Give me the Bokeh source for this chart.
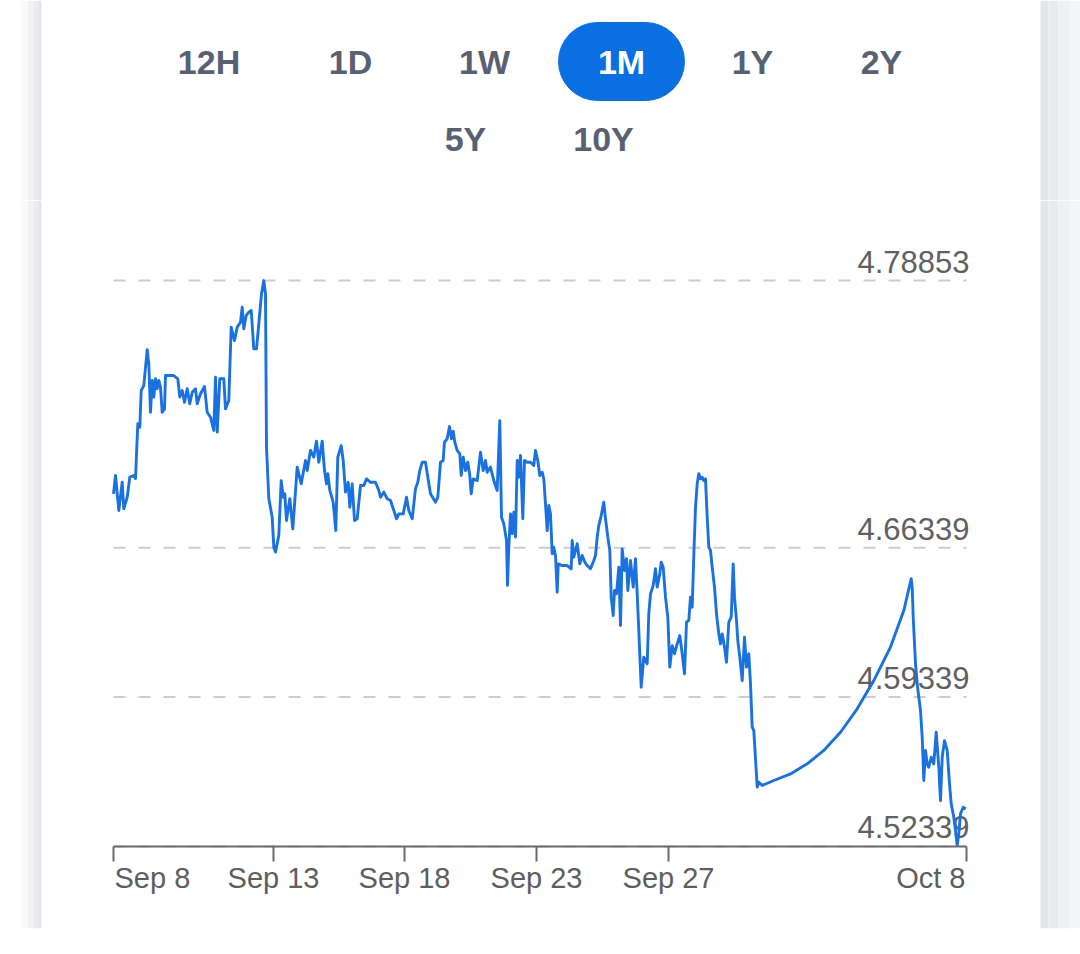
from bokeh.plotting import figure
from bokeh.models import Range1d, FixedTicker, Label, BoxAnnotation
from bokeh.layouts import column
from bokeh.embed import file_html
from bokeh.resources import INLINE
from bokeh.core.properties import value

# range selector
buttons = ["12H", "1D", "1W", "1M", "1Y", "2Y", "5Y", "10Y"]
active = "1M"

# position along the (trading time) axis and the quoted value
t = [0, 2, 5.3, 8.7, 10.3, 13.7, 16.3, 20.3, 22, 24.3,
     26.3, 27.7, 30.3, 33.7, 35.3, 37, 38.7, 40.3, 42, 43.7,
     45.3, 47, 48.7, 51, 52, 60.3, 64.3, 66.3, 68.7, 71,
     73.7, 76.3, 78.7, 82, 83.7, 87, 91, 93.7, 97, 100.3,
     102, 103.7, 106.3, 110.3, 112, 115.3, 117.7, 121, 123.7, 127,
     128.7, 130.3, 132.7, 135.3, 137.7, 140.3, 143, 145.3, 148, 150.3,
     152, 153, 155.3, 158.7, 160.3, 162, 165.3, 167.7, 169.7, 171.3,
     173, 176.3, 179.3, 183.7, 187.7, 192, 193.7, 197, 200.3, 203,
     205.3, 208.7, 211, 213, 214.3, 216.3, 219.7, 222.3, 224.3, 227.7,
     229.7, 232, 234.7, 236.3, 238.7, 241, 243.7, 247, 250.3, 253,
     257, 262, 265.3, 267, 270.3, 273.7, 277, 280.3, 283, 285.3,
     289.7, 293, 295.3, 298.7, 302, 304.3, 306.3, 308.7, 312, 314.3,
     317, 322, 324.3, 327, 329.7, 331, 333.7, 336, 338, 339.7,
     341.3, 343.7, 346.3, 347.7, 349.7, 352, 354.3, 356.3, 357.7, 359.7,
     363.7, 367, 369.7, 372, 373.7, 377, 380.3, 383.7, 386.3, 388,
     390.3, 393, 394, 395.3, 397, 398.7, 400.3, 402, 403.7, 405.3,
     407, 409.3, 411, 413.7, 417, 420.3, 422, 424.3, 426.3, 428.7,
     430.3, 432, 433.7, 435.3, 437, 438.7, 440.3, 442, 443.7, 444.7,
     448.7, 453.7, 457.7, 458.7, 460.3, 463.7, 466.3, 468.7, 471.3, 473.7,
     477, 480.3, 482, 483.7, 485.3, 487.7, 490.3, 492, 494.3, 496.3,
     497.7, 499.7, 501, 503, 505.3, 507, 508.7, 511, 513, 514.3,
     517, 519.7, 522, 523.7, 525.3, 527.7, 530.3, 533.7, 535.3, 537,
     539.7, 542, 543.7, 546.3, 547.7, 549.7, 552, 554.3, 556.3, 558.7,
     561, 563.7, 566.3, 568.7, 571, 573, 575.3, 577, 578.7, 580.3,
     582, 583.7, 585.3, 587, 588.7, 590.3, 592, 593.7, 595.3, 597,
     598.7, 601, 603, 605.3, 607, 608.7, 611, 613, 615.3, 617.7,
     619.7, 621, 623, 624.3, 626.3, 628.7, 631, 633, 635.3, 637,
     638.7, 640.3, 643.7, 645.3, 648.7, 660.3, 677, 693.7, 710.3, 727,
     743.7, 760.3, 777, 790.3, 797.7, 798.7, 799.7, 802, 803.7, 805.3,
     807, 808.7, 810.3, 812, 813.7, 815.3, 817.7, 820.3, 822.7, 825.3,
     827, 828.7, 831, 833.7, 836, 837.7, 840.3, 842, 843.7, 845.3,
     847, 849.7, 852.3]

yld = [4.6886, 4.6972, 4.6808, 4.6940, 4.6816, 4.6870, 4.6964, 4.6972, 4.6958, 4.7214,
       4.7198, 4.7370, 4.7393, 4.7561, 4.7495, 4.7268, 4.7417, 4.7339, 4.7425, 4.7378,
       4.7417, 4.7385, 4.7268, 4.7284, 4.7440, 4.7440, 4.7425, 4.7339, 4.7370, 4.7315,
       4.7378, 4.7308, 4.7362, 4.7378, 4.7308, 4.7355, 4.7389, 4.7268, 4.7245, 4.7183,
       4.7432, 4.7175, 4.7425, 4.7425, 4.7284, 4.7323, 4.7667, 4.7604, 4.7667, 4.7690,
       4.7760, 4.7659, 4.7721, 4.7737, 4.7745, 4.7565, 4.7565, 4.7682, 4.7823, 4.7885,
       4.7823, 4.7104, 4.6864, 4.6776, 4.6636, 4.6613, 4.6691, 4.6948, 4.6870, 4.6886,
       4.6761, 4.6863, 4.6722, 4.7011, 4.6933, 4.7042, 4.6995, 4.7089, 4.7058, 4.7133,
       4.7034, 4.7133, 4.6995, 4.6933, 4.6980, 4.6902, 4.6847, 4.6714, 4.7058, 4.7112,
       4.7042, 4.6894, 4.6940, 4.6823, 4.6933, 4.6761, 4.6769, 4.6925, 4.6925, 4.6956,
       4.6940, 4.6940, 4.6902, 4.6870, 4.6894, 4.6863, 4.6855, 4.6808, 4.6769, 4.6792,
       4.6792, 4.6870, 4.6808, 4.6769, 4.6910, 4.6940, 4.6995, 4.7034, 4.7034, 4.6964,
       4.6886, 4.6847, 4.6870, 4.7034, 4.7042, 4.7128, 4.7144, 4.7201, 4.7144, 4.7179,
       4.7128, 4.7089, 4.7073, 4.6972, 4.7058, 4.6995, 4.7034, 4.6972, 4.6886, 4.6956,
       4.6948, 4.7081, 4.6995, 4.7042, 4.6987, 4.7011, 4.6948, 4.6902, 4.7229, 4.6776,
       4.6746, 4.6667, 4.6457, 4.6636, 4.6792, 4.6699, 4.6800, 4.6683, 4.7042, 4.6964,
       4.7066, 4.6769, 4.7042, 4.7034, 4.7034, 4.7019, 4.7089, 4.7042, 4.6972, 4.6987,
       4.6956, 4.6839, 4.6714, 4.6831, 4.6792, 4.6605, 4.6636, 4.6597, 4.6425, 4.6558,
       4.6550, 4.6550, 4.6535, 4.6667, 4.6589, 4.6652, 4.6558, 4.6597, 4.6566, 4.6550,
       4.6535, 4.6574, 4.6597, 4.6683, 4.6738, 4.6784, 4.6847, 4.6769, 4.6683, 4.6621,
       4.6402, 4.6316, 4.6433, 4.6418, 4.6542, 4.6269, 4.6628, 4.6527, 4.6582, 4.6433,
       4.6574, 4.6449, 4.6582, 4.6418, 4.6246, 4.5980, 4.6121, 4.6090, 4.6324, 4.6418,
       4.6457, 4.6535, 4.6449, 4.6511, 4.6566, 4.6542, 4.6402, 4.6308, 4.6074, 4.6175,
       4.6137, 4.6183, 4.6222, 4.6137, 4.6043, 4.6285, 4.6293, 4.6402, 4.6355, 4.6597,
       4.6823, 4.6933, 4.6980, 4.6956, 4.6964, 4.6948, 4.6956, 4.6776, 4.6636, 4.6621,
       4.6542, 4.6449, 4.6324, 4.6230, 4.6183, 4.6230, 4.6168, 4.6097, 4.6285, 4.6308,
       4.6558, 4.6402, 4.6293, 4.6199, 4.6121, 4.6011, 4.6214, 4.6074, 4.6137, 4.5996,
       4.5793, 4.5777, 4.5512, 4.5535, 4.5520, 4.5543, 4.5574, 4.5621, 4.5684, 4.5769,
       4.5879, 4.6011, 4.6168, 4.6339, 4.6488, 4.6449, 4.6308, 4.6090, 4.5996, 4.5933,
       4.5871, 4.5746, 4.5543, 4.5684, 4.5621, 4.5605, 4.5652, 4.5621, 4.5769, 4.5605,
       4.5449, 4.5652, 4.5730, 4.5684, 4.5528, 4.5434, 4.5371, 4.5309, 4.5239, 4.5293,
       4.5387, 4.5418, 4.5411]

tick_pos = [0, 160, 291, 423, 555, 853]
tick_labels = ["Sep 8", "Sep 13", "Sep 18", "Sep 23", "Sep 27", "Oct 8"]
level_ticks = [4.52339, 4.59339, 4.66339, 4.78853]

BLUE = "#0a6fe2"
LINE = "#1a72e0"
SLATE = "#596072"
GREY = "#5e5e5e"
FONT = "Liberation Sans"
W = 1080


def card_edges(fig):
    # soft shadow on both sides of the white card
    left = [(20, 27, "#f8f9fa"), (27, 33, "#f1f2f4"), (33, 38, "#e9ebee"), (38, 41, "#e2e4e7")]
    right = [(1040, 1048, "#e3e5e8"), (1048, 1058, "#e9eaed"), (1058, 1070, "#eff0f2"),
             (1070, 1080, "#f4f5f6")]
    for a, b, c in left + right:
        fig.add_layout(BoxAnnotation(left=a, right=b, left_units="screen", right_units="screen",
                                     fill_color=c, fill_alpha=1, line_color=None, level="underlay"))


# ---- header with the range buttons
head = figure(width=W, height=200, x_range=Range1d(0, W), y_range=Range1d(200, 0),
              x_axis_location=None, y_axis_location=None, min_border=0,
              output_backend="svg", toolbar_location=None)
head.grid.visible = False
head.outline_line_color = None
card_edges(head)

btn_x = [208.5, 350, 484, 621, 752, 881, 465, 603]
btn_y = [61] * 6 + [138.5] * 2
ai = buttons.index(active)
head.rect(x=btn_x[ai], y=btn_y[ai], width=48, height=78, color=BLUE)
head.circle(x=[btn_x[ai] - 24, btn_x[ai] + 24], y=[btn_y[ai]] * 2, radius=39, color=BLUE)
head.text(x=btn_x, y=btn_y, text=buttons,
          text_color=["white" if b == active else SLATE for b in buttons],
          text_align="center", text_baseline="middle",
          text_font=value(FONT), text_font_style="bold", text_font_size="34px")

# ---- the chart
p = figure(width=W, height=752, x_range=Range1d(-113, W - 113), y_range=Range1d(4.484977, 4.826006),
           y_axis_location=None, min_border_left=0, min_border_right=0,
           min_border_top=0, min_border_bottom=24,
           output_backend="svg", toolbar_location=None)
p.grid.visible = False
p.outline_line_color = None
card_edges(p)

# dashed level lines only across the axis extent
n = len(level_ticks)
p.segment(x0=[tick_pos[0]] * n, x1=[tick_pos[-1]] * n, y0=level_ticks, y1=level_ticks,
          line_color="#cdcdcd", line_width=2, line_dash="12 13")
for lv in level_ticks:
    p.add_layout(Label(x=tick_pos[-1], y=lv, text=f"{lv:.5f}", x_offset=3, y_offset=19,
                       text_align="right", text_baseline="middle",
                       text_font=FONT, text_font_size="31px", text_color="#606060",
                       level="underlay"))

p.line(t, yld, line_color=LINE, line_width=2.9, line_join="round")

ax = p.xaxis[0]
ax.ticker = FixedTicker(ticks=tick_pos)
ax.bounds = (tick_pos[0], tick_pos[-1])
ax.fixed_location = level_ticks[0]
ax.major_label_overrides = {float(k): "" for k in tick_pos}
ax.major_label_text_font_size = "1px"
ax.major_label_standoff = 0
ax.minor_tick_line_color = None
ax.axis_line_color = "#6a6a6a"
ax.axis_line_width = 2
ax.major_tick_line_color = "#6a6a6a"
ax.major_tick_line_width = 2
ax.major_tick_in = 0
ax.major_tick_out = 15

# tick labels; the two end labels stay inside the axis extent
aligns = ["left"] + ["center"] * (len(tick_pos) - 2) + ["right"]
nudges = [1] + [0] * (len(tick_pos) - 2) + [-1]
for pos, lab, al, dx in zip(tick_pos, tick_labels, aligns, nudges):
    p.add_layout(Label(x=pos, y=level_ticks[0], text=lab, x_offset=dx, y_offset=-32,
                       text_align=al, text_baseline="middle", text_font=FONT,
                       text_font_size="29px", text_color=GREY))

layout = column(head, p, spacing=0)

open("out.html", "w").write(file_html(layout, INLINE))
